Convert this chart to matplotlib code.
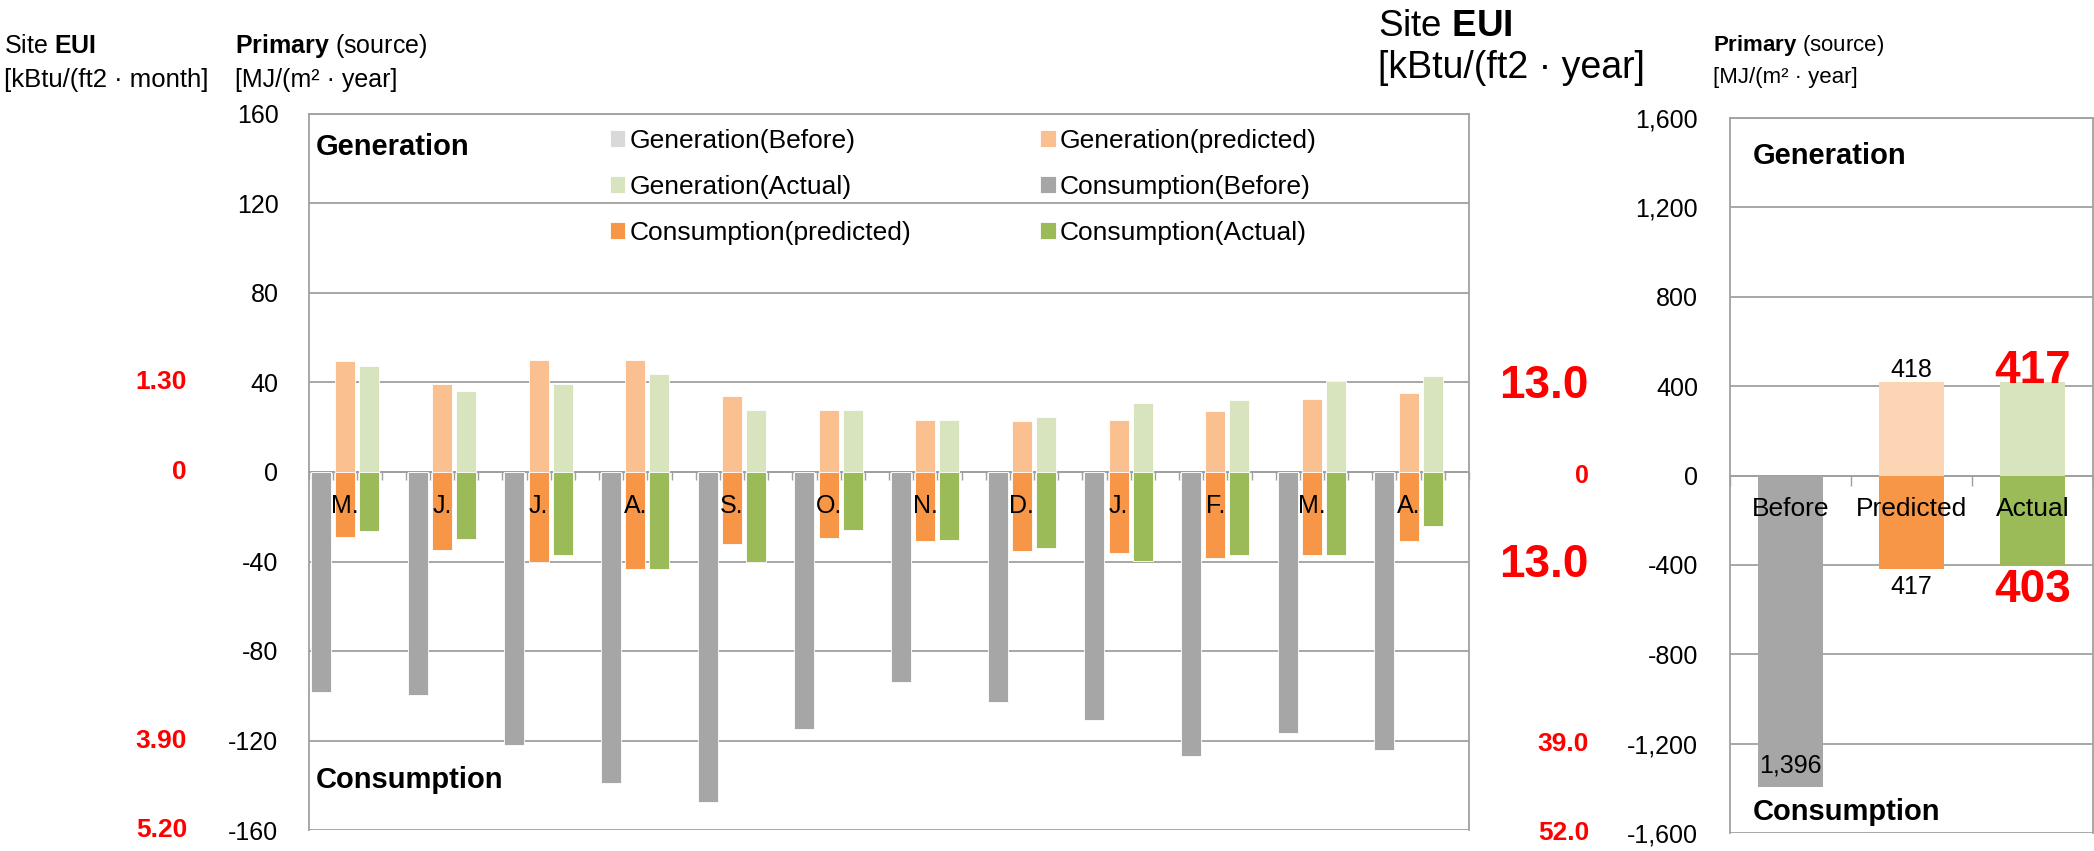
import matplotlib
matplotlib.use("Agg")
import matplotlib.pyplot as plt
from matplotlib.ticker import FixedLocator, FuncFormatter, NullFormatter
from matplotlib.transforms import blended_transform_factory

# ---------------- data ----------------
months = ["M.", "J.", "J.", "A.", "S.", "O.", "N.", "D.", "J.", "F.", "M.", "A."]
gen_before = [0, 0, 0, 0, 0, 0, 0, 0, 0, 0, 0, 0]
gen_predicted = [49.5, 39.2, 50.1, 50.1, 34.1, 27.9, 23.1, 23.0, 23.4, 27.4, 32.8, 35.5]
gen_actual = [47.2, 36.1, 39.2, 43.7, 27.9, 27.9, 23.1, 24.7, 31.0, 32.3, 40.5, 43.1]
cons_before = [-98.4, -99.7, -121.8, -138.9, -147.5, -115.0, -93.9, -103.0, -110.7, -127.0, -116.5, -124.3]
cons_predicted = [-29.1, -34.9, -40.2, -43.5, -32.2, -29.5, -30.8, -35.5, -36.1, -38.3, -37.3, -31.0]
cons_actual = [-26.4, -30.0, -37.3, -43.2, -40.2, -26.1, -30.6, -33.8, -39.6, -37.0, -37.0, -24.3]

annual_categories = ["Before", "Predicted", "Actual"]
annual_gen = [0, 418, 417]
annual_cons = [-1396, -417, -403]

monthly_ticks = [160, 120, 80, 40, 0, -40, -80, -120, -160]
annual_ticks = [1600, 1200, 800, 400, 0, -400, -800, -1200, -1600]

# site EUI reference values shown beside the primary axes
site_month_pos = [40, 0, -120, -160]
site_month_labels = ["1.30", "0", "3.90", "5.20"]
site_year_pos = [400, 0, -400, -1200, -1600]
site_year_labels = ["13.0", "0", "13.0", "39.0", "52.0"]
site_year_sizes = [33, 18, 33, 19, 19]

# ---------------- style ----------------
plt.rcParams["font.family"] = ["Liberation Sans", "DejaVu Sans"]
plt.rcParams["mathtext.fontset"] = "custom"
plt.rcParams["mathtext.rm"] = "Liberation Sans"
plt.rcParams["mathtext.bf"] = "Liberation Sans:bold"
plt.rcParams["axes.unicode_minus"] = False

C_GEN_BEFORE = "#d9d9d9"
C_GEN_PRED = "#fac090"
C_GEN_ACT = "#d7e4bd"
C_CON_BEFORE = "#a6a6a6"
C_CON_PRED = "#f79646"
C_CON_ACT = "#9bbb59"
C_GEN_PRED_Y = "#fcd5b5"
GRID = "#a0a0a0"
RED = "#ff0000"

W, H = 2094, 851
fig = plt.figure(figsize=(W / 100, H / 100), dpi=100)


def fx(px):
    return px / W


def fy(py):
    return 1 - py / H


def style_axes(ax):
    for s in ax.spines.values():
        s.set_color(GRID)
        s.set_linewidth(1.3)
    ax.grid(axis="y", color=GRID, linewidth=1.3, zorder=0)
    ax.set_axisbelow(True)
    ax.tick_params(axis="y", length=0, labelsize=18, pad=22)


# ---------------- monthly chart ----------------
ax1 = fig.add_axes([fx(309), fy(830), fx(1469) - fx(309), fy(114) - fy(830)])
style_axes(ax1)
n = len(months)
slot = 4
bw = 0.83
x_before = [slot * i for i in range(n)]
x_pred = [slot * i + 1 for i in range(n)]
x_act = [slot * i + 2 for i in range(n)]

kw = dict(width=bw, edgecolor="white", linewidth=0.6, zorder=3)
b_gb = ax1.bar(x_before, gen_before, color=C_GEN_BEFORE, **kw)
b_gp = ax1.bar(x_pred, gen_predicted, color=C_GEN_PRED, **kw)
b_ga = ax1.bar(x_act, gen_actual, color=C_GEN_ACT, **kw)
b_cb = ax1.bar(x_before, cons_before, color=C_CON_BEFORE, **kw)
b_cp = ax1.bar(x_pred, cons_predicted, color=C_CON_PRED, **kw)
b_ca = ax1.bar(x_act, cons_actual, color=C_CON_ACT, **kw)

ax1.set_xlim(-0.5, slot * n - 0.5)
ax1.set_ylim(-160, 160)
ax1.yaxis.set_major_locator(FixedLocator(monthly_ticks))
ax1.spines["bottom"].set_position(("data", 0))
ax1.xaxis.set_major_locator(FixedLocator([k - 0.5 for k in range(slot * n + 1)]))
ax1.xaxis.set_major_formatter(NullFormatter())
ax1.tick_params(axis="x", direction="out", length=6, width=1, color=GRID)

for xm, lab in zip(x_pred, months):
    ax1.annotate(lab, (xm, 0), xytext=(0, -29.5), textcoords="offset points",
                 ha="center", va="baseline", fontsize=18, zorder=5)

ax1.text(fx(316), fy(155), "Generation", transform=fig.transFigure,
         fontsize=21, fontweight="bold", va="baseline")
ax1.text(fx(316), fy(788), "Consumption", transform=fig.transFigure,
         fontsize=21, fontweight="bold", va="baseline")

handles = [b_gb, b_ga, b_cp, b_gp, b_cb, b_ca]
labels = ["Generation(Before)", "Generation(Actual)", "Consumption(predicted)",
          "Generation(predicted)", "Consumption(Before)", "Consumption(Actual)"]
ax1.legend(handles, labels, ncol=2, loc="upper left",
           bbox_to_anchor=(fx(610), fy(129)), bbox_transform=fig.transFigure,
           frameon=False, fontsize=19, borderpad=0, borderaxespad=0,
           handlelength=0.58, handleheight=0.58, handletextpad=0.15,
           columnspacing=4.9, labelspacing=0.83)

tr1 = blended_transform_factory(fig.transFigure, ax1.transData)
for yv, lab in zip(site_month_pos, site_month_labels):
    ax1.text(fx(187), yv, lab, transform=tr1, ha="right", va="center",
             color=RED, fontsize=19, fontweight="bold")

fig.text(fx(4), fy(46), r"Site $\mathbf{EUI}$", fontsize=18, va="center")
fig.text(fx(4), fy(80), "[kBtu/(ft2 · month]", fontsize=18.5, va="center")
fig.text(fx(235), fy(46), r"$\mathbf{Primary}$ (source)", fontsize=18, va="center")
fig.text(fx(235), fy(80), "[MJ/(m² · year]", fontsize=18, va="center")

# ---------------- annual chart ----------------
ax2 = fig.add_axes([fx(1730), fy(833), fx(2093) - fx(1730), fy(118) - fy(833)])
style_axes(ax2)
xa = list(range(len(annual_categories)))
kw2 = dict(width=0.53, zorder=3)
ax2.bar(xa, annual_gen, color=[C_GEN_BEFORE, C_GEN_PRED_Y, C_GEN_ACT], **kw2)
ax2.bar(xa, annual_cons, color=[C_CON_BEFORE, C_CON_PRED, C_CON_ACT], **kw2)
ax2.set_xlim(-0.5, len(xa) - 0.5)
ax2.set_ylim(-1600, 1600)
ax2.yaxis.set_major_locator(FixedLocator(annual_ticks))
ax2.yaxis.set_major_formatter(FuncFormatter(lambda v, p: f"{v:,.0f}"))
ax2.tick_params(axis="y", pad=23)
ax2.spines["bottom"].set_position(("data", 0))
ax2.xaxis.set_major_locator(FixedLocator([k - 0.5 for k in range(len(xa) + 1)]))
ax2.xaxis.set_major_formatter(NullFormatter())
ax2.tick_params(axis="x", direction="out", length=7, width=1, color=GRID)

for xi, lab in zip(xa, annual_categories):
    ax2.annotate(lab, (xi, 0), xytext=(0, -29.5), textcoords="offset points",
                 ha="center", va="baseline", fontsize=19, zorder=5)

# value labels: Before (inside bar end), Predicted (plain), Actual (highlighted)
ax2.annotate(f"{abs(annual_cons[0]):,}", (0, annual_cons[0]), xytext=(0, 11),
             textcoords="offset points", ha="center", va="baseline", fontsize=18, zorder=5)
ax2.annotate(f"{annual_gen[1]:,}", (1, annual_gen[1]), xytext=(0, 3.6),
             textcoords="offset points", ha="center", va="baseline", fontsize=18)
ax2.annotate(f"{abs(annual_cons[1]):,}", (1, annual_cons[1]), xytext=(0, -18.4),
             textcoords="offset points", ha="center", va="baseline", fontsize=18)
ax2.annotate(f"{annual_gen[2]:,}", (2, annual_gen[2]), xytext=(0, -0.5),
             textcoords="offset points", ha="center", va="baseline", fontsize=33,
             fontweight="bold", color=RED, zorder=5)
ax2.annotate(f"{abs(annual_cons[2]):,}", (2, annual_cons[2]), xytext=(0, -26.4),
             textcoords="offset points", ha="center", va="baseline", fontsize=33,
             fontweight="bold", color=RED, zorder=5)

ax2.text(fx(1753), fy(164), "Generation", transform=fig.transFigure,
         fontsize=21, fontweight="bold", va="baseline")
ax2.text(fx(1753), fy(820), "Consumption", transform=fig.transFigure,
         fontsize=21, fontweight="bold", va="baseline")

tr2 = blended_transform_factory(fig.transFigure, ax2.transData)
for yv, lab, fs in zip(site_year_pos, site_year_labels, site_year_sizes):
    ax2.text(fx(1589), yv, lab, transform=tr2, ha="right", va="center",
             color=RED, fontsize=fs, fontweight="bold")

fig.text(fx(1378), fy(26), r"Site $\mathbf{EUI}$", fontsize=26.5, va="center")
fig.text(fx(1378), fy(68), "[kBtu/(ft2 · year]", fontsize=27, va="center")
fig.text(fx(1713), fy(46), r"$\mathbf{Primary}$ (source)", fontsize=16, va="center")
fig.text(fx(1713), fy(77), "[MJ/(m² · year]", fontsize=16, va="center")

fig.savefig("out.png", dpi=100)
